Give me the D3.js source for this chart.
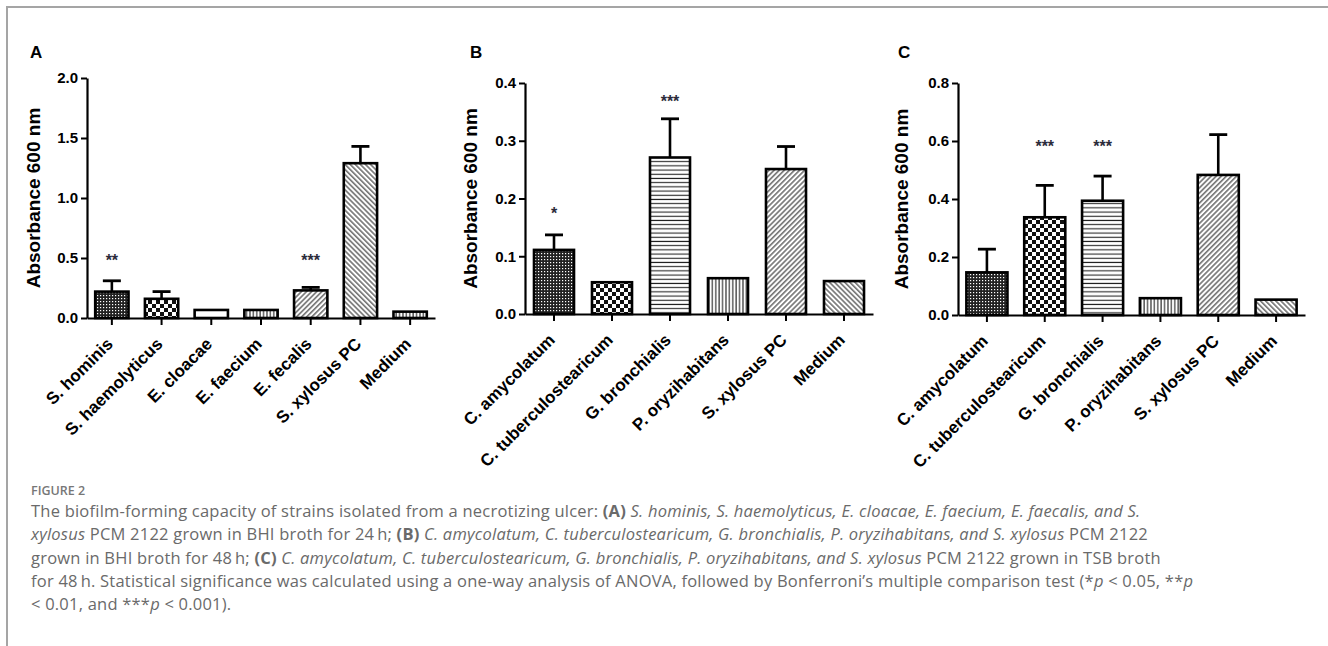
<!DOCTYPE html>
<html>
<head>
<meta charset="utf-8">
<script src="https://cdn.jsdelivr.net/npm/d3@7"></script>
<style>
  body { margin: 0; background: #fff; }
  svg text { font-family: "Liberation Sans", Arial, sans-serif; }
  .caption text { font-family: "Open Sans", Lato, sans-serif; }
</style>
</head>
<body>
<div class="graph"></div>
<script>
// ---- data ----
var catsA = ["S. hominis", "S. haemolyticus", "E. cloacae", "E. faecium", "E. fecalis", "S. xylosus PC", "Medium"];
var meanA = [0.22, 0.16, 0.067, 0.067, 0.23, 1.29, 0.053];
var semA  = [0.09, 0.06, 0.0, 0.0, 0.025, 0.14, 0.0];
var starsA = ["**", "", "", "", "***", "", ""];
var starLevelA = [0.5, 0, 0, 0, 0.5, 0, 0];
var ticksA = [0, 0.5, 1.0, 1.5, 2.0];

var catsB = ["C. amycolatum", "C. tuberculostearicum", "G. bronchialis", "P. oryzihabitans", "S. xylosus PC", "Medium"];
var meanB = [0.111, 0.055, 0.271, 0.062, 0.251, 0.057];
var semB  = [0.026, 0.002, 0.067, 0.002, 0.039, 0.002];
var starsB = ["*", "", "***", "", "", ""];
var starLevelB = [0.178, 0, 0.373, 0, 0, 0];
var ticksB = [0, 0.1, 0.2, 0.3, 0.4];

var catsC = ["C. amycolatum", "C. tuberculostearicum", "G. bronchialis", "P. oryzihabitans", "S. xylosus PC", "Medium"];
var meanC = [0.147, 0.337, 0.394, 0.058, 0.483, 0.053];
var semC  = [0.08, 0.11, 0.085, 0.002, 0.139, 0.002];
var starsC = ["", "***", "***", "", "", ""];
var starLevelC = [0, 0.59, 0.59, 0, 0, 0];
var ticksC = [0, 0.2, 0.4, 0.6, 0.8];

var fillsA = ["dense", "coarse", "none", "vert", "diagR", "diagL", "vert"];
var fillsBC = ["dense", "coarse", "horiz", "vert", "diagR", "diagL"];

var NS = {};
NS.width = 1328;
NS.height = 646;

function makeSVG() {
  NS.svg = d3.select(".graph").append("svg")
      .attr("width", NS.width)
      .attr("height", NS.height);
  var defs = NS.svg.append("defs");

  // fine checker
  var p = defs.append("pattern").attr("id", "dense")
      .attr("patternUnits", "userSpaceOnUse").attr("width", 3).attr("height", 3);
  p.append("rect").attr("width", 3).attr("height", 3).attr("fill", "#222");
  p.append("rect").attr("x", 1).attr("y", 1).attr("width", 1.2).attr("height", 1.2).attr("fill", "#fff");

  // coarse checker
  p = defs.append("pattern").attr("id", "coarse")
      .attr("patternUnits", "userSpaceOnUse").attr("width", 8).attr("height", 8);
  p.append("rect").attr("width", 8).attr("height", 8).attr("fill", "#fff");
  p.append("rect").attr("width", 4).attr("height", 4).attr("fill", "#111");
  p.append("rect").attr("x", 4).attr("y", 4).attr("width", 4).attr("height", 4).attr("fill", "#111");

  // horizontal lines
  p = defs.append("pattern").attr("id", "horiz")
      .attr("patternUnits", "userSpaceOnUse").attr("width", 4).attr("height", 4.2);
  p.append("rect").attr("width", 4).attr("height", 4.2).attr("fill", "#fff");
  p.append("rect").attr("y", 1.5).attr("width", 4).attr("height", 1.1).attr("fill", "#222");

  // vertical lines
  p = defs.append("pattern").attr("id", "vert")
      .attr("patternUnits", "userSpaceOnUse").attr("width", 3.4).attr("height", 4);
  p.append("rect").attr("width", 3.4).attr("height", 4).attr("fill", "#fff");
  p.append("rect").attr("x", 1.2).attr("width", 1.1).attr("height", 4).attr("fill", "#222");

  // diagonals
  [["diagR", 45], ["diagL", -45]].forEach(function(d) {
    var q = defs.append("pattern").attr("id", d[0])
        .attr("patternUnits", "userSpaceOnUse").attr("width", 3.6).attr("height", 4)
        .attr("patternTransform", "rotate(" + d[1] + ")");
    q.append("rect").attr("width", 3.6).attr("height", 4).attr("fill", "#fff");
    q.append("rect").attr("x", 1.2).attr("width", 1.1).attr("height", 4).attr("fill", "#333");
  });
}

function frame() {
  NS.svg.append("line").attr("x1", 6).attr("x2", NS.width).attr("y1", 7).attr("y2", 7)
      .attr("stroke", "#a5a5a5").attr("stroke-width", 2);
  NS.svg.append("line").attr("x1", 7).attr("x2", 7).attr("y1", 6).attr("y2", NS.height)
      .attr("stroke", "#a5a5a5").attr("stroke-width", 2);
}

function drawPanel(cfg) {
  var g = NS.svg.append("g");

  var x = d3.scaleBand().domain(cfg.cats)
      .range([cfg.left, cfg.right])
      .paddingInner(cfg.pad).paddingOuter(cfg.pad / 2);
  var y = d3.scaleLinear().domain([0, cfg.ticks[cfg.ticks.length - 1]])
      .range([cfg.bottom, cfg.top]);
  var cx = function(i) { return x(cfg.cats[i]) + x.bandwidth() / 2; };

  // panel letter
  g.append("text").attr("x", cfg.letterX).attr("y", 58)
      .attr("font-size", 17).attr("font-weight", "bold").text(cfg.letter);

  // y label
  g.append("text")
      .attr("transform", "translate(" + (cfg.left - cfg.labelOff) + "," + ((cfg.top + cfg.bottom) / 2) + ") rotate(-90)")
      .attr("text-anchor", "middle")
      .attr("font-size", 19).attr("font-weight", "bold")
      .text("Absorbance 600 nm");

  // error bars (upper half only, as in the figure)
  var idx = d3.range(cfg.mean.length).filter(function(i) { return cfg.sem[i] > 0.004; });
  var eb = g.append("g").selectAll("g").data(idx).enter().append("g");
  eb.append("line")
      .attr("x1", cx).attr("x2", cx)
      .attr("y1", function(i) { return y(cfg.mean[i]); })
      .attr("y2", function(i) { return y(cfg.mean[i] + cfg.sem[i]); })
      .attr("stroke", "#000").attr("stroke-width", 2.6);
  eb.append("line")
      .attr("x1", function(i) { return cx(i) - 9; })
      .attr("x2", function(i) { return cx(i) + 9; })
      .attr("y1", function(i) { return y(cfg.mean[i] + cfg.sem[i]); })
      .attr("y2", function(i) { return y(cfg.mean[i] + cfg.sem[i]); })
      .attr("stroke", "#000").attr("stroke-width", 2.8);

  // bars
  g.append("g").selectAll("rect").data(cfg.mean).enter().append("rect")
      .attr("x", function(d, i) { return x(cfg.cats[i]); })
      .attr("y", function(d) { return y(d); })
      .attr("width", x.bandwidth())
      .attr("height", function(d) { return cfg.bottom - y(d); })
      .attr("fill", function(d, i) { return cfg.fills[i] == "none" ? "#fff" : "url(#" + cfg.fills[i] + ")"; })
      .attr("stroke", "#000").attr("stroke-width", 2.6);

  // significance stars
  g.append("g").selectAll("text").data(cfg.stars).enter().append("text")
      .attr("x", function(d, i) { return cx(i); })
      .attr("y", function(d, i) { return y(cfg.starLevel[i]) + 8; })
      .attr("text-anchor", "middle")
      .attr("font-size", 16).attr("font-weight", "bold").attr("fill", "#2b2b3a")
      .text(function(d) { return d; });

  // axes
  var ya = g.append("g").attr("transform", "translate(" + cfg.left + ",0)")
      .call(d3.axisLeft(y).tickValues(cfg.ticks).tickFormat(d3.format(".1f"))
            .tickSize(6).tickSizeOuter(0).tickPadding(3));
  var xa = g.append("g").attr("transform", "translate(0," + cfg.bottom + ")")
      .call(d3.axisBottom(x).tickSize(7).tickSizeOuter(0).tickFormat(""));
  [ya, xa].forEach(function(a) {
    a.select(".domain").attr("stroke-width", 2.2);
    a.selectAll(".tick line").attr("stroke-width", 2);
  });
  ya.selectAll(".tick text")
      .attr("font-size", 15).attr("font-weight", "bold").attr("fill", "#000")
      .attr("font-family", "Liberation Sans, Arial, sans-serif");

  // rotated category labels
  g.append("g").selectAll("text").data(cfg.cats).enter().append("text")
      .attr("transform", function(d) {
        return "translate(" + (x(d) + x.bandwidth() / 2 + 2) + "," + (cfg.bottom + 27) + ") rotate(-45)";
      })
      .attr("text-anchor", "end")
      .attr("font-size", 17).attr("font-weight", "bold")
      .text(function(d) { return d; });
}

function caption() {
  var c = NS.svg.append("g").attr("class", "caption");
  c.append("text").attr("x", 31).attr("y", 495)
      .attr("font-size", 12.5).attr("fill", "#777").attr("font-weight", 600)
      .text("FIGURE 2");

  var lines = [
    [["The biofilm-forming capacity of strains isolated from a necrotizing ulcer: ", ""], ["(A)", "b"],
     [" S. hominis, S. haemolyticus, E. cloacae, E. faecium, E. faecalis, and S.", "i"]],
    [["xylosus", "i"], [" PCM 2122 grown in BHI broth for 24\u2009h; ", ""], ["(B)", "b"],
     [" C. amycolatum, C. tuberculostearicum, G. bronchialis, P. oryzihabitans, and S. xylosus", "i"], [" PCM 2122", ""]],
    [["grown in BHI broth for 48\u2009h; ", ""], ["(C)", "b"],
     [" C. amycolatum, C. tuberculostearicum, G. bronchialis, P. oryzihabitans, and S. xylosus", "i"],
     [" PCM 2122 grown in TSB broth", ""]],
    [["for 48\u2009h. Statistical significance was calculated using a one-way analysis of ANOVA, followed by Bonferroni\u2019s multiple comparison test (*", ""],
     ["p", "i"], [" < 0.05, **", ""], ["p", "i"]],
    [["< 0.01, and ***", ""], ["p", "i"], [" < 0.001).", ""]]
  ];
  lines.forEach(function(line, k) {
    var t = c.append("text").attr("x", 31).attr("y", 517 + k * 23.3)
        .attr("font-size", 16.5).attr("letter-spacing", 0.22).attr("fill", "#6a6a6a");
    line.forEach(function(s) {
      t.append("tspan")
          .attr("font-style", s[1] == "i" ? "italic" : null)
          .attr("font-weight", s[1] == "b" ? "bold" : null)
          .text(s[0]);
    });
  });
}

function main() {
  makeSVG();
  frame();
  drawPanel({ letter: "A", letterX: 30, cats: catsA, mean: meanA, sem: semA, stars: starsA,
              starLevel: starLevelA, ticks: ticksA, fills: fillsA,
              left: 87, right: 435, top: 78, bottom: 318, pad: 0.33, labelOff: 47 });
  drawPanel({ letter: "B", letterX: 470, cats: catsB, mean: meanB, sem: semB, stars: starsB,
              starLevel: starLevelB, ticks: ticksB, fills: fillsBC,
              left: 525, right: 873, top: 83, bottom: 314, pad: 0.31, labelOff: 48 });
  drawPanel({ letter: "C", letterX: 898, cats: catsC, mean: meanC, sem: semC, stars: starsC,
              starLevel: starLevelC, ticks: ticksC, fills: fillsBC,
              left: 958, right: 1305, top: 83, bottom: 315, pad: 0.29, labelOff: 50 });
  caption();
}

main();
</script>
</body>
</html>
